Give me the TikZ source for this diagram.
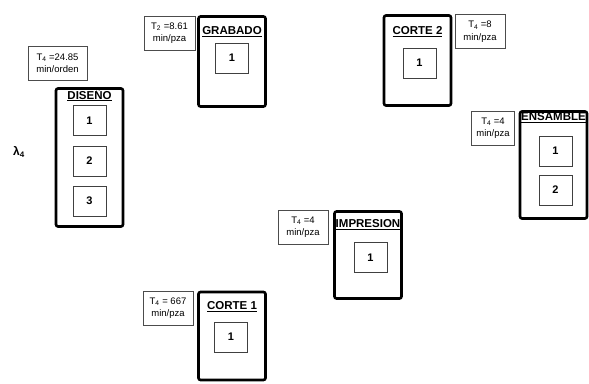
\documentclass[tikz,border=0pt]{standalone}
\usepackage{fontspec}
\setmainfont{Liberation Sans}
\usetikzlibrary{positioning}

\begin{document}
\begin{tikzpicture}[x=1pt, y=-1pt,
  estacion/.style={draw, line width=2.6pt, rounded corners=2pt, minimum width=67pt, inner sep=0pt},
  titulo/.style={font=\fontsize{11.5}{13}\selectfont\bfseries, inner sep=0pt},
  celda/.style={draw=black!75, line width=0.8pt, minimum width=33pt, minimum height=30pt,
    font=\fontsize{11}{13}\selectfont\bfseries, inner sep=0pt},
  tiempo/.style={draw=black!70, line width=0.7pt, minimum width=50pt, minimum height=34pt,
    align=center, font=\fontsize{9.5}{12.5}\selectfont, inner sep=1pt},
]
\useasboundingbox (0,0) rectangle (589,383);

% DISENO
\node[tiempo, minimum width=59pt] (tDiseno) at (57.5,63) {T\textsubscript{4} =24.85\\min/orden};
\node[font=\fontsize{12}{13}\selectfont\bfseries] (lambda) at (19,152) {λ\textsubscript{4}};
\node[estacion, minimum height=138pt] (diseno) at (89.5,157.5) {};
\node[titulo] (disenoT) at (89.5,95) {\underline{DISEÑO}};
\node[celda] (diseno1) at (89.5,120.5) {1};
\node[celda] (diseno2) at (89.5,161) {2};
\node[celda] (diseno3) at (89.5,201) {3};

% GRABADO
\node[tiempo, minimum width=51pt] (tGrabado) at (169.5,33) {T\textsubscript{2} =8.61\\min/pza};
\node[estacion, minimum height=90pt] (grabado) at (232,61.5) {};
\node[titulo] (grabadoT) at (232,32) {\underline{GRABADO}};
\node[celda] (grabado1) at (232,58) {1};

% CORTE 2
\node[tiempo] (tCorte2) at (480,31.5) {T\textsubscript{4} =8\\min/pza};
\node[estacion, minimum height=90pt] (corte2) at (417.5,60.5) {};
\node[titulo] (corte2T) at (417.5,32) {\underline{CORTE 2}};
\node[celda] (corte21) at (419.5,63) {1};

% ENSAMBLE
\node[tiempo, minimum width=43pt] (tEnsamble) at (493,128) {T\textsubscript{4} =4\\min/pza};
\node[estacion, minimum height=107pt] (ensamble) at (553.5,165) {};
\node[titulo] (ensambleT) at (553.5,118) {\underline{ENSAMBLE}};
\node[celda] (ensamble1) at (555.5,151) {1};
\node[celda] (ensamble2) at (555.5,190) {2};

% IMPRESION
\node[tiempo] (tImpresion) at (303,227) {T\textsubscript{4} =4\\min/pza};
\node[estacion, minimum height=87pt] (impresion) at (368,255) {};
\node[titulo] (impresionT) at (368,225) {\underline{IMPRESION}};
\node[celda] (impresion1) at (370.5,257.5) {1};

% CORTE 1
\node[tiempo] (tCorte1) at (168,308) {T\textsubscript{4} = 667\\min/pza};
\node[estacion, minimum height=88pt] (corte1) at (232,336) {};
\node[titulo] (corte1T) at (232,307) {\underline{CORTE 1}};
\node[celda] (corte11) at (231,337) {1};

\end{tikzpicture}
\end{document}
